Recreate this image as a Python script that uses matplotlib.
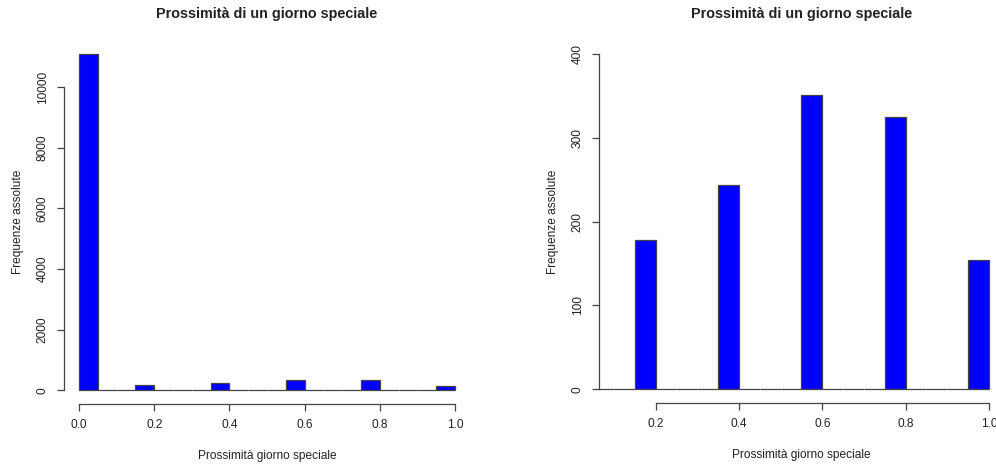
import numpy as np
import matplotlib
matplotlib.use("Agg")
import matplotlib.pyplot as plt

# -------------------------
# Dati
# -------------------------

# valori distinti di prossimità e frequenze assolute
prossimita = [0.0, 0.2, 0.4, 0.6, 0.8, 1.0]
frequenze = [11090, 178, 244, 351, 325, 154]

# secondo grafico: solo valori > 0
prossimita_pos = [0.2, 0.4, 0.6, 0.8, 1.0]
frequenze_pos = [178, 244, 351, 325, 154]

titolo = "Prossimità di un giorno speciale"
xlab = "Prossimità giorno speciale"
ylab = "Frequenze assolute"

plt.rcParams["font.family"] = ["Liberation Sans", "DejaVu Sans"]
testo = "#222222"
linea = "#444444"


def conta_bin(valori, pesi, breaks):
    # come hist() di R: intervalli chiusi a destra, il primo incluso
    idx = np.digitize(valori, breaks, right=True) - 1
    idx = np.clip(idx, 0, len(breaks) - 2)
    conteggi = np.zeros(len(breaks) - 1)
    np.add.at(conteggi, idx, pesi)
    return conteggi


def disegna(ax, valori, pesi, breaks, xlim, ylim, xticks, yticks):
    conteggi = conta_bin(valori, pesi, breaks)
    ax.bar(breaks[:-1], conteggi, width=np.diff(breaks), align="edge",
           color="#0000ff", edgecolor=linea, linewidth=0.9)
    ax.set_xlim(xlim)
    ax.set_ylim(ylim)
    ax.set_xticks(xticks)
    ax.set_xticklabels([f"{t:.1f}" for t in xticks])
    ax.set_yticks(yticks)
    ax.set_yticklabels([str(t) for t in yticks])
    ax.spines["top"].set_visible(False)
    ax.spines["right"].set_visible(False)
    ax.spines["left"].set_bounds(yticks[0], yticks[-1])
    ax.spines["bottom"].set_bounds(xticks[0], xticks[-1])
    for s in ("left", "bottom"):
        ax.spines[s].set_color(linea)
        ax.spines[s].set_linewidth(0.9)
    ax.tick_params(length=5, width=0.9, color=linea, labelcolor=testo,
                   labelsize=8.6, pad=6)
    ax.tick_params(axis="y", labelrotation=90)
    for lab in ax.get_yticklabels():
        lab.set_va("center")
    ax.set_title(titolo, fontsize=10.4, fontweight="bold", color=testo, pad=16.3)


fig = plt.figure(figsize=(9.96, 4.65), dpi=100)

# -------------------------
# Grafico a sinistra
# -------------------------
ax1 = fig.add_axes([0.0643, 0.1318, 0.4076, 0.7804])
breaks1 = np.round(np.arange(21) * 0.05, 2)
top1 = max(frequenze)
disegna(ax1, prossimita, frequenze, breaks1,
        (-0.04, 1.04), (-0.04 * top1, 1.04 * top1),
        [0.0, 0.2, 0.4, 0.6, 0.8, 1.0], [0, 2000, 4000, 6000, 8000, 10000])
ax1.set_xlabel(xlab, fontsize=8.6, color=testo, labelpad=14)
ax1.set_ylabel(ylab, fontsize=8.6, color=testo, labelpad=9)

# -------------------------
# Grafico a destra
# -------------------------
ax2 = fig.add_axes([0.6014, 0.134, 0.4066, 0.7787])
disegna(ax2, prossimita_pos, frequenze_pos, breaks1,
        (0.064, 1.036), (-16, 416),
        [0.2, 0.4, 0.6, 0.8, 1.0], [0, 100, 200, 300, 400])
ax2.set_xlabel(xlab, fontsize=8.6, color=testo, labelpad=14)
ax2.set_ylabel(ylab, fontsize=8.6, color=testo, labelpad=9.5)

fig.savefig("out.png", dpi=100)
plt.close(fig)
